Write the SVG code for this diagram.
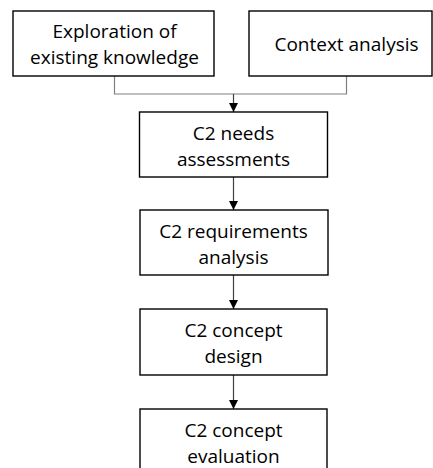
<svg xmlns="http://www.w3.org/2000/svg" width="433" height="468" viewBox="0 0 433 468">
<defs>
<marker id="arr" markerUnits="userSpaceOnUse" markerWidth="9" markerHeight="9" refX="9" refY="4.5" orient="auto">
<path d="M0,0 L9,4.5 L0,9 z" fill="#000"/>
</marker>
<style>
.box{fill:#fff;stroke:#000;stroke-width:1.4}
.t{font-family:"Open Sans","Liberation Sans",sans-serif;font-size:19px;fill:#000;text-anchor:middle}
.c{fill:none;stroke:#808080;stroke-width:1.2}
.a{fill:none;stroke:#404040;stroke-width:1.2;marker-end:url(#arr)}
</style>
</defs>
<rect width="433" height="468" fill="#fff"/>
<g id="connectors">
<path class="c" d="M114.5,76 V94 H346.5 V76"/>
<path class="a" d="M233.5,94 V112"/>
<path class="a" d="M233.5,177 V210"/>
<path class="a" d="M233.5,275 V309"/>
<path class="a" d="M233.5,375 V409"/>
</g>
<g id="n1"><rect class="box" x="13" y="11" width="201" height="65"/>
<text class="t" x="114.5" y="38">Exploration of</text><text class="t" x="114.5" y="64">existing knowledge</text></g>
<g id="n2"><rect class="box" x="249" y="11" width="183" height="65"/>
<text class="t" x="346.5" y="51">Context analysis</text></g>
<g id="n3"><rect class="box" x="139.5" y="112" width="188" height="65"/>
<text class="t" x="233.5" y="139.5">C2 needs</text><text class="t" x="233.5" y="165.5">assessments</text></g>
<g id="n4"><rect class="box" x="140" y="210" width="188" height="65"/>
<text class="t" x="233.5" y="237.5">C2 requirements</text><text class="t" x="233.5" y="263.5">analysis</text></g>
<g id="n5"><rect class="box" x="140" y="309" width="187" height="66"/>
<text class="t" x="233.5" y="336.5">C2 concept</text><text class="t" x="233.5" y="362.5">design</text></g>
<g id="n6"><rect class="box" x="140" y="409" width="187" height="66"/>
<text class="t" x="233.5" y="436.5">C2 concept</text><text class="t" x="233.5" y="462.5">evaluation</text></g>
</svg>
